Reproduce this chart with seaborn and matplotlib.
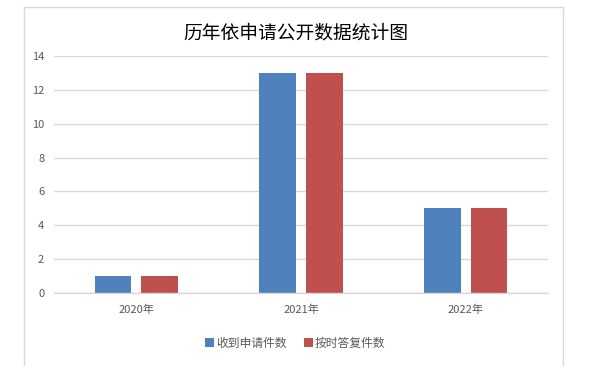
import matplotlib
matplotlib.use("Agg")
import matplotlib.pyplot as plt
from matplotlib.lines import Line2D
import pandas as pd
import seaborn as sns

# data
years = ["2020年", "2021年", "2022年"]
received = [1, 13, 5]
answered = [1, 13, 5]
series_names = ["收到申请件数", "按时答复件数"]
colors = ["#4F81BD", "#C0504D"]

df = pd.DataFrame({
    "year": years * 2,
    "count": received + answered,
    "series": [series_names[0]] * len(years) + [series_names[1]] * len(years),
})

sns.set_style("white")
plt.rcParams["font.family"] = ["Noto Sans CJK SC", "DejaVu Sans"]

fig = plt.figure(figsize=(5.92, 3.88), dpi=100)
ax = fig.add_axes([0.0912, 0.2448, 0.8345, 0.6108])

sns.barplot(data=df, x="year", y="count", hue="series", palette=colors,
            width=0.567, gap=0.214, linewidth=0, ax=ax, saturation=1,
            legend=True)

ax.set_xlim(-0.5, 2.5)
ax.set_ylim(0, 14)
ax.set_yticks(range(0, 15, 2))
ax.yaxis.grid(True, color="#D9D9D9", linewidth=1)
ax.set_axisbelow(True)
for side in ["top", "right", "left"]:
    ax.spines[side].set_visible(False)
ax.spines["bottom"].set_color("#D9D9D9")
ax.spines["bottom"].set_linewidth(1)
ax.tick_params(axis="both", length=0, colors="#595959", labelsize=8)
ax.tick_params(axis="y", pad=7)
ax.tick_params(axis="x", pad=8)
ax.set_xlabel("")
ax.set_ylabel("")

handles, labels = ax.get_legend_handles_labels()
ax.legend_.remove()
fig.legend(handles, labels, loc="center", bbox_to_anchor=(0.499, 0.116),
           ncol=2, frameon=False, fontsize=8.5, handlelength=0.75,
           handleheight=0.75, handletextpad=0.15, columnspacing=1.5,
           labelcolor="#595959")

fig.text(0.5, 1 - 33 / 388, "历年依申请公开数据统计图", ha="center", va="center",
         fontsize=13.5, color="#000000")

# outer chart frame (bottom edge is cut off in the original)
frame = "#D9D9D9"
l, r, t, b = 24 / 592, 563 / 592, 1 - 7 / 388, 1 - 365 / 388
fig.add_artist(Line2D([l, l], [b, t], color=frame, lw=1, transform=fig.transFigure))
fig.add_artist(Line2D([r, r], [b, t], color=frame, lw=1, transform=fig.transFigure))
fig.add_artist(Line2D([l, r], [t, t], color=frame, lw=1, transform=fig.transFigure))

fig.savefig("out.png", dpi=100)
